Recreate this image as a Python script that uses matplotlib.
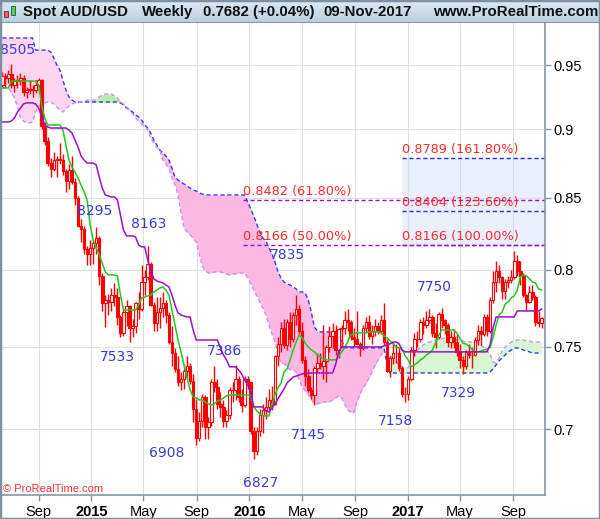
import numpy as np
import pandas as pd
import matplotlib
matplotlib.use('Agg')
import matplotlib.pyplot as plt
import matplotlib.dates as mdates
from matplotlib.patches import Rectangle

plt.rcParams['font.family'] = ['Liberation Sans', 'DejaVu Sans']

# weekly AUD/USD candles, first bar week of 9 Jun 2014
first_week = '2014-06-09'
opens = [.9340, .9415, .9400, .9430, .9345, .9375, .9385, .9400, .9290, .9305,
         .9310, .9300, .9345, .9380, .9025, .8915, .8750, .8710, .8770, .8780,
         .8770, .8690, .8620, .8700, .8610, .8500, .8300, .8280, .8140, .8110,
         .8150, .8180, .8220, .7960, .7780, .7800, .7790, .7830, .7820, .7690,
         .7590, .7720, .7760, .7620, .7630, .7780, .7740, .7920, .7950, .8040,
         .7770, .7650, .7720, .7750, .7780, .7700, .7530, .7460, .7360, .7280,
         .7300, .7350, .7380, .7290, .7120, .6950, .7050, .7190, .7010, .7040,
         .7280, .7250, .7150, .7130, .7050, .7080, .7230, .7230, .7300, .7190,
         .7140, .7300, .7280, .6990, .6870, .6990, .7080, .7110, .7130, .7170,
         .7150, .7440, .7520, .7620, .7510, .7660, .7550, .7700, .7740, .7600,
         .7420, .7320, .7230, .7200, .7370, .7400, .7380, .7410, .7500, .7570,
         .7600, .7480, .7610, .7620, .7670, .7660, .7560, .7550, .7520, .7490,
         .7620, .7660, .7570, .7600, .7630, .7600, .7670, .7530, .7350, .7430,
         .7460, .7460, .7370, .7210, .7210, .7300, .7480, .7550, .7550, .7660,
         .7640, .7670, .7690, .7590, .7560, .7710, .7670, .7640, .7530, .7560,
         .7530, .7470, .7420, .7380, .7470, .7450, .7450, .7540, .7600, .7580,
         .7690, .7600, .7800, .7920, .7990, .7950, .7860, .7920, .7930, .7950,
         .8060, .7990, .7960, .7830, .7790, .7850, .7820, .7660, .7650]
highs = [.9445, .9440, .9460, .9505, .9400, .9420, .9435, .9420, .9330, .9380,
         .9340, .9380, .9400, .9390, .9060, .8940, .8790, .8830, .8800, .8900,
         .8820, .8710, .8740, .8800, .8640, .8510, .8350, .8300, .8160, .8200,
         .8200, .8295, .8230, .7980, .7830, .7840, .7880, .7910, .7880, .7700,
         .7740, .7800, .7770, .7680, .7790, .7850, .8030, .8000, .8163, .8050,
         .7790, .7820, .7820, .7850, .7800, .7720, .7630, .7490, .7440, .7340,
         .7390, .7440, .7400, .7330, .7180, .7100, .7210, .7200, .7070, .7300,
         .7382, .7300, .7220, .7170, .7110, .7250, .7280, .7386, .7320, .7240,
         .7320, .7320, .7280, .7010, .7010, .7120, .7150, .7190, .7240, .7260,
         .7450, .7560, .7660, .7680, .7680, .7720, .7720, .7835, .7770, .7660,
         .7440, .7360, .7250, .7380, .7460, .7460, .7640, .7510, .7630, .7650,
         .7640, .7620, .7640, .7730, .7740, .7670, .7620, .7730, .7530, .7640,
         .7690, .7700, .7640, .7680, .7660, .7700, .7780, .7550, .7440, .7530,
         .7520, .7500, .7380, .7250, .7320, .7500, .7590, .7600, .7680, .7690,
         .7730, .7740, .7700, .7650, .7720, .7750, .7680, .7650, .7600, .7610,
         .7580, .7520, .7440, .7480, .7520, .7500, .7560, .7640, .7630, .7710,
         .7710, .7820, .7990, .8060, .8030, .7960, .7940, .7960, .8000, .8125,
         .8100, .8060, .7980, .7840, .7890, .7900, .7830, .7730, .7690]
lows = [.9330, .9330, .9360, .9320, .9290, .9320, .9340, .9260, .9240, .9270,
        .9250, .9280, .9280, .9000, .8885, .8730, .8645, .8690, .8645, .8740,
        .8660, .8540, .8560, .8600, .8450, .8290, .8190, .8110, .8030, .8030,
        .8040, .8110, .7900, .7730, .7625, .7700, .7730, .7760, .7640, .7560,
        .7570, .7630, .7533, .7560, .7590, .7680, .7730, .7830, .7930, .7760,
        .7600, .7600, .7620, .7690, .7650, .7520, .7380, .7340, .7260, .7230,
        .7240, .7300, .7270, .7040, .6908, .6930, .7010, .6940, .6940, .7020,
        .7220, .7120, .7070, .7010, .7010, .7060, .7160, .7170, .7160, .7100,
        .7130, .7240, .6970, .6827, .6850, .6960, .6975, .7060, .7100, .7110,
        .7140, .7380, .7470, .7490, .7480, .7500, .7530, .7640, .7580, .7400,
        .7260, .7220, .7180, .7145, .7340, .7360, .7300, .7280, .7470, .7490,
        .7450, .7430, .7490, .7580, .7600, .7540, .7500, .7510, .7440, .7480,
        .7590, .7550, .7520, .7570, .7580, .7580, .7510, .7340, .7310, .7390,
        .7400, .7350, .7190, .7158, .7170, .7290, .7440, .7500, .7530, .7580,
        .7620, .7650, .7560, .7490, .7550, .7620, .7580, .7500, .7490, .7490,
        .7440, .7370, .7329, .7360, .7430, .7370, .7440, .7510, .7510, .7570,
        .7570, .7590, .7780, .7850, .7910, .7810, .7810, .7880, .7910, .7940,
        .7960, .7900, .7820, .7730, .7780, .7800, .7630, .7625, .7620]
closes = [.9415, .9400, .9430, .9345, .9375, .9385, .9400, .9290, .9305, .9310,
          .9300, .9345, .9380, .9025, .8915, .8750, .8710, .8770, .8780, .8770,
          .8690, .8620, .8700, .8610, .8500, .8300, .8280, .8140, .8110, .8150,
          .8180, .8220, .7960, .7780, .7800, .7790, .7830, .7820, .7690, .7590,
          .7720, .7760, .7620, .7630, .7780, .7740, .7920, .7950, .8040, .7770,
          .7650, .7720, .7750, .7780, .7700, .7530, .7460, .7360, .7280, .7300,
          .7350, .7380, .7290, .7120, .6950, .7050, .7190, .7010, .7040, .7280,
          .7250, .7150, .7130, .7050, .7080, .7230, .7230, .7300, .7190, .7140,
          .7300, .7280, .6990, .6870, .6990, .7080, .7110, .7130, .7170, .7150,
          .7440, .7520, .7620, .7510, .7660, .7550, .7700, .7740, .7600, .7420,
          .7320, .7230, .7200, .7370, .7400, .7380, .7410, .7500, .7570, .7600,
          .7480, .7610, .7620, .7670, .7660, .7560, .7550, .7520, .7490, .7620,
          .7660, .7570, .7600, .7630, .7600, .7670, .7530, .7350, .7430, .7460,
          .7460, .7370, .7210, .7210, .7300, .7480, .7550, .7550, .7660, .7640,
          .7670, .7690, .7590, .7560, .7710, .7670, .7640, .7530, .7560, .7530,
          .7470, .7420, .7380, .7470, .7450, .7450, .7540, .7600, .7580, .7690,
          .7600, .7800, .7920, .7990, .7950, .7860, .7920, .7930, .7950, .8060,
          .7990, .7960, .7830, .7790, .7850, .7820, .7660, .7650, .7682]

# Ichimoku lines, one value per weekly bar
tenkan = [.9319, .9319, .9319, .9373, .9373, .9373, .9373, .9373, .9373, .9373,
          .9373, .9373, .9342, .9187, .9087, .9034, .9034, .9034, .9034, .9034,
          .8996, .8883, .8772, .8721, .8684, .8641, .8590, .8540, .8483, .8307,
          .8203, .8149, .8101, .8046, .7986, .7966, .7966, .7966, .7959, .7833,
          .7735, .7735, .7735, .7735, .7735, .7768, .7814, .7820, .7827, .7833,
          .7853, .7866, .7879, .7886, .7866, .7833, .7735, .7639, .7543, .7468,
          .7387, .7306, .7234, .7191, .7185, .7173, .7173, .7161, .7149, .7143,
          .7149, .7167, .7173, .7185, .7197, .7203, .7203, .7203, .7203, .7203,
          .7203, .7203, .7197, .7131, .7107, .7089, .7077, .7077, .7077, .7143,
          .7203, .7246, .7276, .7344, .7362, .7418, .7480, .7530, .7575, .7556,
          .7524, .7499, .7480, .7468, .7449, .7436, .7424, .7418, .7418, .7418,
          .7418, .7436, .7468, .7493, .7530, .7575, .7581, .7588, .7588, .7588,
          .7588, .7594, .7594, .7594, .7594, .7588, .7569, .7556, .7537, .7518,
          .7499, .7493, .7480, .7443, .7418, .7375, .7387, .7399, .7418, .7430,
          .7449, .7461, .7480, .7524, .7569, .7607, .7607, .7607, .7607, .7607,
          .7588, .7556, .7524, .7518, .7505, .7486, .7468, .7468, .7474, .7480,
          .7486, .7493, .7556, .7639, .7703, .7722, .7774, .7788, .7814, .7827,
          .7866, .7953, .7966, .7959, .7940, .7919, .7913, .7873, .7866]
kijun = [.9057, .9057, .9057, .9064, .9087, .9133, .9163, .9195, .9203, .9203,
         .9203, .9195, .9163, .9102, .9034, .9019, .9011, .9011, .9011, .9011,
         .9011, .9011, .8996, .8973, .8921, .8868, .8802, .8772, .8750, .8750,
         .8750, .8736, .8648, .8568, .8519, .8512, .8505, .8505, .8483, .8377,
         .8272, .8231, .8231, .8231, .8224, .8169, .8156, .8156, .8067, .7999,
         .7940, .7926, .7919, .7913, .7899, .7886, .7833, .7768, .7716, .7703,
         .7696, .7690, .7690, .7607, .7543, .7543, .7543, .7543, .7543, .7543,
         .7543, .7543, .7493, .7449, .7418, .7375, .7375, .7375, .7356, .7331,
         .7294, .7264, .7222, .7131, .7131, .7131, .7131, .7107, .7101, .7125,
         .7149, .7179, .7209, .7240, .7276, .7294, .7312, .7318, .7325, .7331,
         .7337, .7337, .7337, .7337, .7337, .7337, .7337, .7337, .7337, .7337,
         .7387, .7468, .7499, .7499, .7499, .7499, .7499, .7499, .7499, .7499,
         .7499, .7499, .7499, .7499, .7499, .7499, .7505, .7512, .7518, .7530,
         .7530, .7518, .7480, .7468, .7468, .7468, .7468, .7468, .7468, .7468,
         .7468, .7468, .7468, .7468, .7468, .7468, .7468, .7468, .7468, .7468,
         .7468, .7468, .7468, .7468, .7468, .7468, .7468, .7468, .7468, .7468,
         .7468, .7512, .7620, .7690, .7690, .7690, .7690, .7690, .7690, .7690,
         .7729, .7729, .7729, .7729, .7729, .7729, .7729, .7729, .7742]
span_a = [.9319, .9319, .9319, .9288, .9241, .9179, .9087, .9064, .9049, .9049,
          .9057, .9133, .9179, .9195, .9203, .9210, .9210, .9195, .9171, .9148,
          .9133, .9156, .9179, .9195, .9203, .9210, .9210, .9218, .9225, .9225,
          .9225, .9225, .9249, .9264, .9272, .9272, .9272, .9257, .9241, .9210,
          .9195, .9171, .9148, .9118, .9087, .9064, .9042, .9026, .8996, .8936,
          .8898, .8868, .8846, .8772, .8743, .8707, .8641, .8590, .8519, .8391,
          .8286, .8258, .8238, .8217, .8189, .8108, .8026, .7993, .7979, .7979,
          .7986, .7986, .7986, .7979, .7973, .7966, .7973, .7973, .7979, .7979,
          .7979, .7946, .7906, .7866, .7827, .7788, .7748, .7703, .7639, .7581,
          .7530, .7449, .7399, .7393, .7375, .7356, .7356, .7344, .7294, .7252,
          .7228, .7203, .7179, .7149, .7149, .7155, .7161, .7161, .7161, .7173,
          .7185, .7197, .7185, .7149, .7113, .7101, .7095, .7161, .7203, .7246,
          .7270, .7306, .7344, .7381, .7418, .7449, .7468, .7461, .7443, .7430,
          .7405, .7387, .7375, .7368, .7368, .7399, .7436, .7480, .7493, .7512,
          .7524, .7530, .7537, .7543, .7543, .7549, .7556, .7556, .7549, .7549,
          .7543, .7543, .7537, .7530, .7530, .7530, .7530, .7530, .7512, .7493,
          .7474, .7455, .7405, .7399, .7430, .7474, .7499, .7512, .7530, .7537,
          .7543, .7543, .7543, .7537, .7537, .7530, .7530, .7530, .7530]
span_b = [.9718, .9718, .9718, .9718, .9718, .9718, .9718, .9718, .9718, .9718,
          .9718, .9620, .9620, .9620, .9620, .9620, .9604, .9556, .9500, .9460,
          .9381, .9303, .9249, .9225, .9210, .9210, .9210, .9210, .9210, .9210,
          .9210, .9210, .9210, .9210, .9210, .9210, .9210, .9210, .9210, .9203,
          .9187, .9164, .9148, .9133, .9110, .9095, .9072, .9034, .9011, .8973,
          .8921, .8883, .8846, .8824, .8802, .8772, .8714, .8648, .8626, .8612,
          .8597, .8583, .8568, .8554, .8547, .8533, .8526, .8519, .8519, .8519,
          .8519, .8519, .8519, .8519, .8519, .8519, .8519, .8519, .8519, .8519,
          .8519, .8469, .8419, .8370, .8314, .8258, .8217, .8196, .8149, .8108,
          .8054, .7986, .7946, .7919, .7906, .7899, .7886, .7873, .7853, .7853,
          .7846, .7801, .7722, .7626, .7601, .7594, .7594, .7594, .7594, .7594,
          .7594, .7594, .7543, .7493, .7493, .7493, .7493, .7493, .7493, .7493,
          .7493, .7493, .7493, .7493, .7493, .7493, .7493, .7387, .7337, .7337,
          .7337, .7337, .7337, .7337, .7337, .7337, .7337, .7337, .7337, .7337,
          .7337, .7337, .7337, .7337, .7337, .7337, .7337, .7337, .7337, .7337,
          .7337, .7337, .7337, .7337, .7337, .7337, .7337, .7337, .7337, .7337,
          .7337, .7344, .7362, .7387, .7412, .7430, .7449, .7468, .7480, .7493,
          .7493, .7486, .7480, .7474, .7468, .7461, .7461, .7461, .7461]

# swing labels: text, date, price
swing_text = ['8505', '8295', '8163', '7533', '7386', '6908', '6827',
              '7835', '7145', '7158', '7750', '7329']
swing_date = ['2014-07-15', '2015-01-08', '2015-05-13', '2015-03-03',
              '2015-11-04', '2015-06-25', '2016-01-26', '2016-03-30',
              '2016-05-16', '2016-12-04', '2017-03-03', '2017-04-29']
swing_price = [.9620, .8405, .8314, .7437, .7474, .6862, .6692,
               .8101, .6966, .7048, .7886, .7215]

# Fibonacci retracement and extension
retr_levels = [0.8482, 0.8166]
retr_text = ['0.8482 (61.80%)', '0.8166 (50.00%)']
retr_start = '2015-12-18'
ext_levels = [0.8789, 0.8404, 0.8166]
ext_text = ['0.8789 (161.80%)', '0.8404 (123.60%)', '0.8166 (100.00%)']
ext_start = '2016-12-18'

y_ticks = [0.7, 0.75, 0.8, 0.85, 0.9, 0.95]
x_tick_dates = ['2014-09-01', '2015-01-01', '2015-05-01', '2015-09-01', '2016-01-01',
                '2016-05-01', '2016-09-01', '2017-01-01', '2017-05-01', '2017-09-01']
x_tick_labels = ['Sep', '2015', 'May', 'Sep', '2016', 'May', 'Sep', '2017', 'May', 'Sep']

n = len(closes)
assert all(len(a) == n for a in [opens, highs, lows, tenkan, kijun, span_a, span_b])
weeks = pd.date_range(first_week, periods=n, freq='W-MON')
x = mdates.date2num(weeks)
o, h, l, c = map(np.array, (opens, highs, lows, closes))
sa, sb = np.array(span_a), np.array(span_b)

W, H = 600, 519
fig = plt.figure(figsize=(W / 100, H / 100), dpi=100)
ax = fig.add_axes([1 / W, 1 - 495 / H, 544 / W, 472 / H])

# cloud: paler shade on the older part, stronger later
shade_split = mdates.datestr2num('2015-06-15')
early = x <= shade_split
late = x >= shade_split
ax.fill_between(x, sa, sb, where=(sa <= sb) & early, interpolate=True, color='#fdd4ef', lw=0, zorder=1)
ax.fill_between(x, sa, sb, where=(sa <= sb) & late, interpolate=True, color='#fbb8e3', lw=0, zorder=1)
ax.fill_between(x, sa, sb, where=(sa > sb) & early, interpolate=True, color='#b6f0a8', lw=0, zorder=1)
ax.fill_between(x, sa, sb, where=(sa > sb) & late, interpolate=True, color='#d6f7d2', lw=0, zorder=1)
ax.plot(x, sb, color='#3838f0', lw=1, ls=(0, (3, 2)), zorder=2)
ax.plot(x, sa, color='#c890f0', lw=1, ls=(0, (3, 2)), zorder=2)

# fib extension box and lines
ext_x0 = mdates.datestr2num(ext_start)
x_end = mdates.datestr2num('2017-11-14')
ax.fill_between([ext_x0, x_end], min(ext_levels), max(ext_levels), color='#e9effd', lw=0, zorder=0.5)
for lev, txt in zip(ext_levels, ext_text):
    ax.plot([ext_x0, x_end], [lev, lev], color='#2a2ae8', lw=1, ls=(0, (3, 2)), zorder=2)
    ax.annotate(txt, (ext_x0, lev), xytext=(0, 1.5), textcoords='offset points',
                ha='left', va='bottom', fontsize=9.3, color='#ff2a2a',
                family='DejaVu Sans', zorder=5)
retr_x0 = mdates.datestr2num(retr_start)
for lev, txt in zip(retr_levels, retr_text):
    ax.plot([retr_x0, x_end], [lev, lev], color='#9a10cc', lw=1, ls=(0, (3, 2)), zorder=2)
    ax.annotate(txt, (retr_x0, lev), xytext=(0, 1.5), textcoords='offset points',
                ha='left', va='bottom', fontsize=9.3, color='#ff2a2a',
                family='DejaVu Sans', zorder=5)

# candles
ax.vlines(x, l, h, color='#ff0000', lw=1, zorder=3)
up = c >= o
ax.bar(x[up], c[up] - o[up], bottom=o[up], width=5.8, facecolor='white',
       edgecolor='#ff0000', lw=0.8, zorder=3)
ax.bar(x[~up], o[~up] - c[~up], bottom=c[~up], width=5.8, facecolor='#ff0000',
       edgecolor='#ff0000', lw=0.8, zorder=3)

# tenkan / kijun
ax.plot(x, tenkan, color='#22c81e', lw=1.1, zorder=4)
ax.plot(x, kijun, color='#9a10cc', lw=1.1, zorder=4)

for txt, d, p in zip(swing_text, swing_date, swing_price):
    ax.text(mdates.datestr2num(d), p, txt, ha='center', va='center', fontsize=10,
            color='#3a3ad8', family='DejaVu Sans', zorder=5)

ax.set_yscale('log')
ax.set_ylim(0.6623, 0.9841)
ax.set_xlim(mdates.datestr2num('2014-06-06'), x_end)
ax.yaxis.tick_right()
ax.set_yticks(y_ticks)
ax.set_yticklabels([f'{v:g}' for v in y_ticks])
ax.yaxis.set_minor_locator(matplotlib.ticker.NullLocator())
ax.set_xticks(mdates.datestr2num(x_tick_dates))
ax.set_xticklabels(x_tick_labels)
for lab in ax.get_xticklabels():
    if lab.get_text().isdigit():
        lab.set_fontweight('bold')
ax.tick_params(axis='y', labelsize=10.5, length=4, width=1, color='#8896a4', pad=2)
ax.tick_params(axis='x', labelsize=10.5, length=4, width=1, color='#8896a4', pad=3)
ax.grid(True, color='#dedede', lw=0.8, zorder=0)
ax.set_axisbelow(True)
for side in ['top', 'left']:
    ax.spines[side].set_visible(False)
for side in ['right', 'bottom']:
    ax.spines[side].set_color('#8896a4')
    ax.spines[side].set_linewidth(1.2)

# header bar
hax = fig.add_axes([0, 1 - 23 / H, 1, 23 / H])
grad = np.linspace(0, 1, 50).reshape(-1, 1)
hax.imshow(grad, aspect='auto', cmap=matplotlib.colors.LinearSegmentedColormap.from_list(
    'hdr', ['#dde9f2', '#b7cfe0']), extent=[0, 1, 0, 1])
hax.set_axis_off()
hax.axhline(0, color='#8896a4', lw=1.5)
head_items = [('Spot AUD/USD', 23), ('Weekly', 142), ('0.7682 (+0.04%)', 203),
              ('09-Nov-2017', 323), ('www.ProRealTime.com', 433)]
for txt, px in head_items:
    fig.text(px / W, 1 - 12 / H, txt, ha='left', va='center', fontsize=10.8,
             fontweight='bold', color='#111111')
# small candle icon
fig.patches.append(Rectangle((4 / W, 1 - 17 / H), 4 / W, 6 / H, transform=fig.transFigure,
                             facecolor='#f06060', edgecolor='#802020', lw=0.6))
fig.patches.append(Rectangle((11 / W, 1 - 15 / H), 4 / W, 9 / H, transform=fig.transFigure,
                             facecolor='#50d050', edgecolor='#206020', lw=0.6))

fig.text(3 / W, 1 - 489 / H, '\u00a9 ProRealTime.com', ha='left', va='center',
         fontsize=8, color='#ff3030')

# outer frame
fig.patches.append(Rectangle((0, 0), 1, 1, transform=fig.transFigure, fill=False,
                             edgecolor='#7d90a2', lw=2.5))

fig.savefig('out.png', dpi=100)
